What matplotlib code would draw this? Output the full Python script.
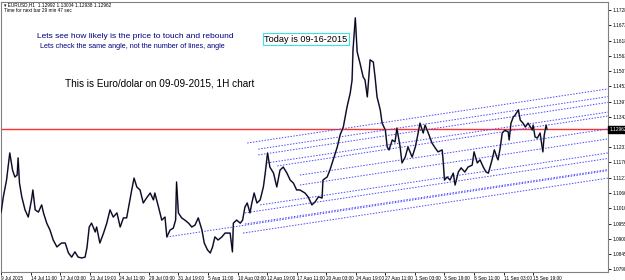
import matplotlib
matplotlib.use("Agg")
import matplotlib.pyplot as plt
import matplotlib.transforms as mtransforms
import numpy as np

# EURUSD H1, bar index counted from 9 Jul 2015 19:00
bars = [0, 5, 12, 19, 25, 30, 35, 37, 40, 45, 52, 59, 66, 69, 74, 81, 88, 92, 99, 106,
        113, 121, 131, 139, 146, 153, 160, 167, 175, 182, 186, 191, 196, 204, 207, 214, 222, 229, 236, 243,
        251, 258, 265, 272, 279, 283, 288, 294, 301, 308, 315, 323, 330, 333, 341, 348, 355, 359, 366, 373,
        378, 380, 384, 391, 398, 406, 413, 420, 427, 435, 440, 447, 453, 458, 463, 470, 478, 485, 496, 501,
        503, 510, 518, 523, 528, 533, 539, 543, 548, 554, 561, 568, 572, 577, 582, 590, 597, 604, 611, 619,
        626, 633, 640, 647, 658, 665, 673, 680, 687, 695, 697, 706, 712, 719, 728, 734, 741, 745, 749, 756,
        760, 762, 767, 771, 777, 784, 788, 793, 799, 806, 810, 814, 821, 825, 832, 836, 840, 847, 853, 857,
        864, 868, 875, 881, 890, 897, 903, 907, 914, 918, 925, 933, 940, 946, 955, 957, 960, 966, 972, 979,
        983, 990, 996, 1004, 1011, 1020, 1024, 1031, 1037, 1044, 1050, 1055, 1063, 1068, 1074, 1076, 1081, 1085, 1091, 1098,
        1100, 1104, 1109, 1113, 1117, 1120, 1124, 1130, 1135, 1141, 1150, 1152, 1156, 1161, 1167, 1173, 1176, 1180, 1182]
close = [1.0994, 1.1052, 1.1113, 1.1211, 1.1149, 1.1124, 1.1131, 1.1193, 1.1102, 1.1052, 1.1005, 1.0979, 1.1041, 1.1077, 1.1005, 1.0997, 1.1023, 1.0994, 1.0957, 1.0932,
         1.0896, 1.0871, 1.0885, 1.0885, 1.0849, 1.0834, 1.0853, 1.0834, 1.0831, 1.0834, 1.0867, 1.0943, 1.0957, 1.0925, 1.0943, 1.0885, 1.0921, 1.0957, 1.1005, 1.0979,
         1.0994, 1.0943, 1.0976, 1.0976, 1.1041, 1.1077, 1.1120, 1.1088, 1.1077, 1.1030, 1.1048, 1.1066, 1.1041, 1.1066, 1.1015, 1.0968, 1.0979, 1.0907, 1.0932, 1.0939,
         1.0968, 1.1106, 1.0994, 1.0976, 1.0968, 1.0957, 1.0943, 1.0950, 1.0976, 1.0932, 1.0885, 1.0860, 1.0849, 1.0871, 1.0907, 1.0896, 1.0907, 1.0921, 1.0921, 1.0853,
         1.0957, 1.0968, 1.0957, 1.0968, 1.1015, 1.1030, 1.0994, 1.1030, 1.1066, 1.1030, 1.1041, 1.1088, 1.1138, 1.1211, 1.1160, 1.1138, 1.1088, 1.1149, 1.1160, 1.1138,
         1.1113, 1.1102, 1.1077, 1.1077, 1.1066, 1.1052, 1.1023, 1.1034, 1.1052, 1.1048, 1.1113, 1.1124, 1.1149, 1.1186, 1.1233, 1.1276, 1.1305, 1.1341, 1.1377, 1.1428,
         1.1475, 1.1584, 1.1700, 1.1577, 1.1537, 1.1486, 1.1475, 1.1414, 1.1548, 1.1540, 1.1482, 1.1414, 1.1367, 1.1319, 1.1294, 1.1233, 1.1222, 1.1258, 1.1251, 1.1301,
         1.1233, 1.1175, 1.1196, 1.1233, 1.1196, 1.1233, 1.1283, 1.1319, 1.1283, 1.1312, 1.1283, 1.1247, 1.1229, 1.1215, 1.1222, 1.1186, 1.1113, 1.1124, 1.1113, 1.1138,
         1.1095, 1.1142, 1.1157, 1.1142, 1.1160, 1.1167, 1.1215, 1.1175, 1.1186, 1.1160, 1.1142, 1.1138, 1.1186, 1.1222, 1.1193, 1.1186, 1.1233, 1.1283, 1.1294, 1.1287,
         1.1258, 1.1319, 1.1341, 1.1348, 1.1359, 1.1367, 1.1330, 1.1319, 1.1305, 1.1319, 1.1294, 1.1312, 1.1269, 1.1265, 1.1283, 1.1215, 1.1276, 1.1312, 1.12962]

last_price = 1.12962

# parallel trend lines: start (bar, price) -> end (bar, price)
line_x0 = [533, 557, 557, 576, 598, 647, 647, 561, 528, 528, 524, 359]
line_y0 = [1.1247, 1.1225, 1.1204, 1.1175, 1.1164, 1.1131, 1.1095, 1.1023, 1.0994, 1.0954, 1.0921, 1.0907]
line_x1 = [1314] * 12
line_y1 = [1.1443, 1.1415, 1.1394, 1.1359, 1.1345, 1.1298, 1.1262, 1.1211, 1.1191, 1.1151, 1.1120, 1.1147]

price_ticks = [1.17285, 1.16735, 1.16180, 1.15630, 1.15075, 1.14525, 1.13970, 1.13420, 1.12870,
               1.12315, 1.11765, 1.11210, 1.10660, 1.10105, 1.09555, 1.09000, 1.08450, 1.07900]
time_ticks = list(range(0, 1153, 64))
time_labels = ["9 Jul 2015", "14 Jul 11:00", "17 Jul 03:00", "21 Jul 19:00", "24 Jul 11:00",
               "29 Jul 03:00", "31 Jul 19:00", "5 Aug 11:00", "10 Aug 03:00", "12 Aug 19:00",
               "17 Aug 11:00", "20 Aug 03:00", "24 Aug 19:00", "27 Aug 11:00", "1 Sep 03:00",
               "3 Sep 19:00", "8 Sep 11:00", "11 Sep 03:00", "15 Sep 19:00"]

fam = ["Liberation Sans", "DejaVu Sans"]

W, H = 625, 280
fig = plt.figure(figsize=(W / 100, H / 100), dpi=100)
ax = fig.add_axes([1 / W, 1 - 272 / H, 607 / W, 270 / H])
ax.set_xlim(0, 1314)
ax.set_ylim(1.07801, 1.17575)

for s in ax.spines.values():
    s.set_color("#808080")
    s.set_linewidth(0.8)

ax.axhline(last_price, color="#ff3030", lw=1.0, zorder=2)
for x0, y0, x1, y1 in zip(line_x0, line_y0, line_x1, line_y1):
    ax.plot([x0, x1], [y0, y1], color="#4a4aff", lw=0.7, ls=(0, (1.5, 1.5)), zorder=3)
ax.plot(bars, close, color="#7878b0", lw=1.2, zorder=4)
ax.plot(bars, close, color="black", lw=0.7, zorder=5)

ax.yaxis.tick_right()
ax.set_yticks(price_ticks)
ax.set_yticklabels(["%.5f" % p for p in price_ticks])
ax.tick_params(axis="y", length=2, width=0.6, pad=1.5, labelsize=3.4, colors="black")
ax.set_xticks(time_ticks)
ax.set_xticklabels(time_labels, ha="left")
ax.tick_params(axis="x", length=2, width=0.6, pad=1.0, labelsize=3.4, colors="black")
for t in ax.get_xticklabels() + ax.get_yticklabels():
    t.set_family(fam)

trans = mtransforms.blended_transform_factory(ax.transAxes, ax.transData)
ax.text(1.002, last_price, "%.5f" % last_price, transform=trans, fontsize=3.4, color="white",
        family=fam, va="center", ha="left", zorder=10,
        bbox=dict(boxstyle="square,pad=0.2", fc="black", ec="black"))

def px(x, y):
    return x / W, 1 - y / H

fig.text(*px(4, 5), "\u25be EURUSD,H1  1.12992 1.13004 1.12938 1.12962", fontsize=3.4,
         family=fam, va="center")
fig.text(*px(4, 11), "Time for next bar 29 min 47 sec", fontsize=3.4,
         family=fam, va="center")

fig.text(*px(37, 37), "Lets see how likely is the price to touch and rebound",
         family=fam, fontsize=6, color="#000080", va="center")
fig.text(*px(40, 47), "Lets check the same angle, not the number of lines, angle",
         family=fam, fontsize=5.2, color="#000080", va="center")
fig.text(*px(264, 39), "Today is 09-16-2015", family=fam, fontsize=6.6,
         va="center", bbox=dict(boxstyle="square,pad=0.15", fc="white", ec="#40e0e0", lw=0.8))
fig.text(*px(65, 84), "This is Euro/dolar on 09-09-2015, 1H chart", family=fam,
         fontsize=7.2, va="center")

fig.savefig("out.png", dpi=100)
